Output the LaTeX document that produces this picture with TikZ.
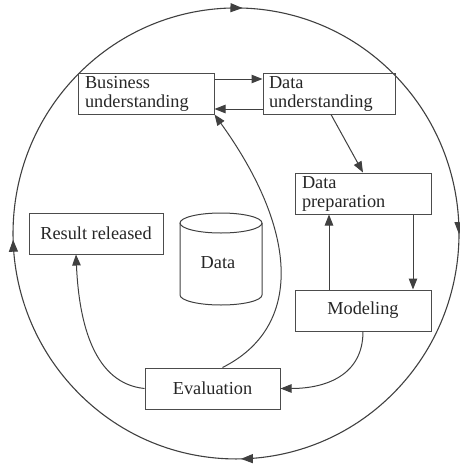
\documentclass[tikz,border=0pt]{standalone}
\usepackage{fontspec}
\setmainfont{Liberation Serif}
\usetikzlibrary{arrows.meta,decorations.markings}

\begin{document}
\begin{tikzpicture}[x=1pt,y=-1pt,
  stage/.style={draw=black!70, line width=1pt, minimum width=136pt,
    minimum height=41pt, inner sep=0pt,
    font=\fontsize{18.3}{19}\selectfont, text=black!85},
  stageL/.style={stage, text width=122pt, align=left},
  flow/.style={draw=black!75, line width=1pt, -{Triangle[length=11pt,width=8.5pt]}},
  ring/.style={draw=black!75, line width=1.1pt},
]
\useasboundingbox (0,0) rectangle (460,464);

% outer cycle, running clockwise
\path[ring, postaction={decorate}, decoration={markings,
    mark=at position 0.126 with {\arrow{Triangle[length=12pt,width=9pt]}},
    mark=at position 0.372 with {\arrow{Triangle[length=12pt,width=9pt]}},
    mark=at position 0.621 with {\arrow{Triangle[length=12pt,width=9pt]}},
    mark=at position 0.880 with {\arrow{Triangle[length=12pt,width=9pt]}}}]
  (393.7,74) arc[start angle=-45, end angle=315, x radius=223, y radius=225.5];

% stages
\node[stageL] (bu) at (146,93.5) {Business\\understanding};
\node[stageL, minimum width=132pt, text width=120pt] (du) at (329,93.5) {Data\\understanding};
\node[stageL] (dp) at (363,193.5) {Data\\preparation};
\node[stage] (mod) at (363,310.5) {Modeling};
\node[stage, minimum width=135pt] (ev) at (212.5,388.5) {Evaluation};
\node[stage, minimum width=134pt] (res) at (96,233.5) {Result released};

% data store
\draw[ring, line width=1pt] (221,223) ellipse [x radius=41, y radius=10];
\draw[ring, line width=1pt] (262,223) -- (262,295)
  arc[start angle=0, end angle=180, x radius=41, y radius=10] -- (180,223);
\node[font=\fontsize{18.3}{19}\selectfont, text=black!85] (data) at (218,263) {Data};

% connectors
\draw[flow] ([yshift=14.5pt]bu.east) -- ([yshift=14.5pt]du.west);
\draw[flow] ([yshift=-15.5pt]du.west) -- ([yshift=-15.5pt]bu.east);
\draw[flow] ([xshift=2pt]du.south) -- (dp.north);
\draw[flow] ([xshift=50pt]dp.south) -- ([xshift=50pt]mod.north);
\draw[flow] ([xshift=-34pt]mod.north) -- ([xshift=-34pt]dp.south);
\draw[flow] (mod.south) .. controls +(0,44) and +(45,0) .. (ev.east);
\draw[flow] ([xshift=10pt]ev.north) .. controls +(80,-40) and +(85,118) .. (bu.south east);
\draw[flow] (ev.west) .. controls +(-50,-5) and +(3,70) .. ([xshift=-20pt]res.south);
\end{tikzpicture}
\end{document}
